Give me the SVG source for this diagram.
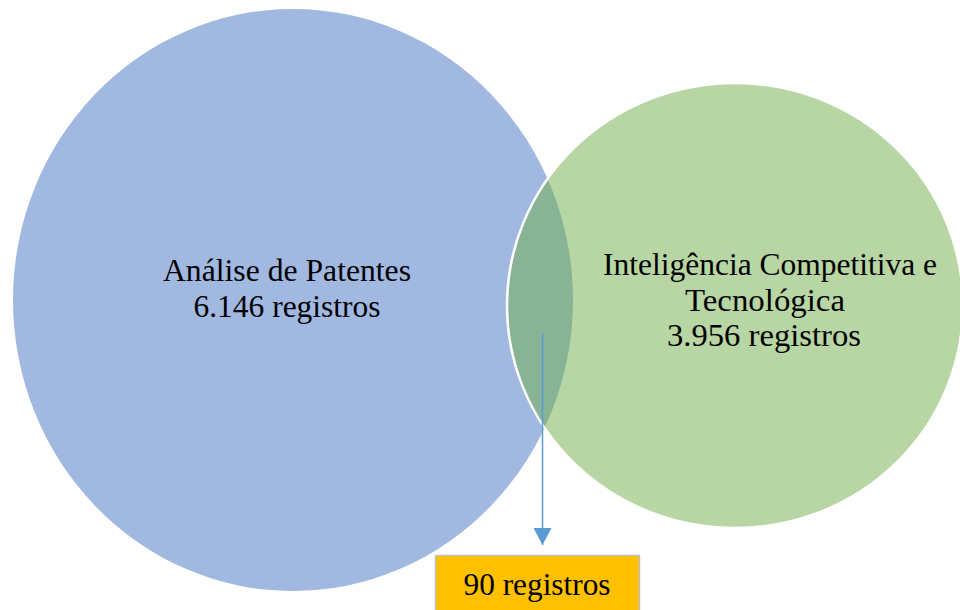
<svg xmlns="http://www.w3.org/2000/svg" width="960" height="610" viewBox="0 0 960 610">
  <defs>
    <style>
      .lbl { font-family: 'Liberation Serif', 'Times New Roman', serif; font-size: 32px; fill: #000; text-anchor: middle; }
      .set-a { fill: #4472C4; fill-opacity: 0.5; }
      .set-b { fill: #70AD47; fill-opacity: 0.5; stroke: #ffffff; stroke-width: 2.5; }
      .conn { stroke: #5B9BD5; stroke-width: 1.5; fill: none; }
    </style>
    <marker id="arrowhead" markerWidth="17" markerHeight="18" refX="17" refY="9" orient="auto" markerUnits="userSpaceOnUse" viewBox="0 0 17 18">
      <path d="M0,0 L17,9 L0,18 Z" fill="#5B9BD5"/>
    </marker>
  </defs>

  <rect width="960" height="610" fill="#ffffff"/>

  <!-- Patent analysis set -->
  <g id="patentes">
    <ellipse class="set-a" cx="293" cy="300" rx="280" ry="291"/>
    <text class="lbl" x="287" y="281" textLength="248" lengthAdjust="spacingAndGlyphs">Análise de Patentes</text>
    <text class="lbl" x="287" y="317" textLength="187" lengthAdjust="spacingAndGlyphs">6.146 registros</text>
  </g>

  <!-- Competitive and technological intelligence set -->
  <g id="inteligencia">
    <ellipse class="set-b" cx="735" cy="305.5" rx="228" ry="222.5"/>
    <text class="lbl" x="770" y="275" textLength="334" lengthAdjust="spacingAndGlyphs">Inteligência Competitiva e</text>
    <text class="lbl" x="765" y="311" textLength="160" lengthAdjust="spacingAndGlyphs">Tecnológica</text>
    <text class="lbl" x="764" y="346" textLength="194" lengthAdjust="spacingAndGlyphs">3.956 registros</text>
  </g>

  <!-- Intersection result -->
  <g id="intersecao">
    <rect x="435.5" y="555.5" width="204" height="60" fill="#FFC000" stroke="#BFBFBF" stroke-width="1.5"/>
    <text class="lbl" x="537" y="595" textLength="147" lengthAdjust="spacingAndGlyphs">90 registros</text>
  </g>

  <g id="connectors">
    <line class="conn" x1="542.5" y1="333" x2="542.5" y2="545" marker-end="url(#arrowhead)"/>
  </g>
</svg>
